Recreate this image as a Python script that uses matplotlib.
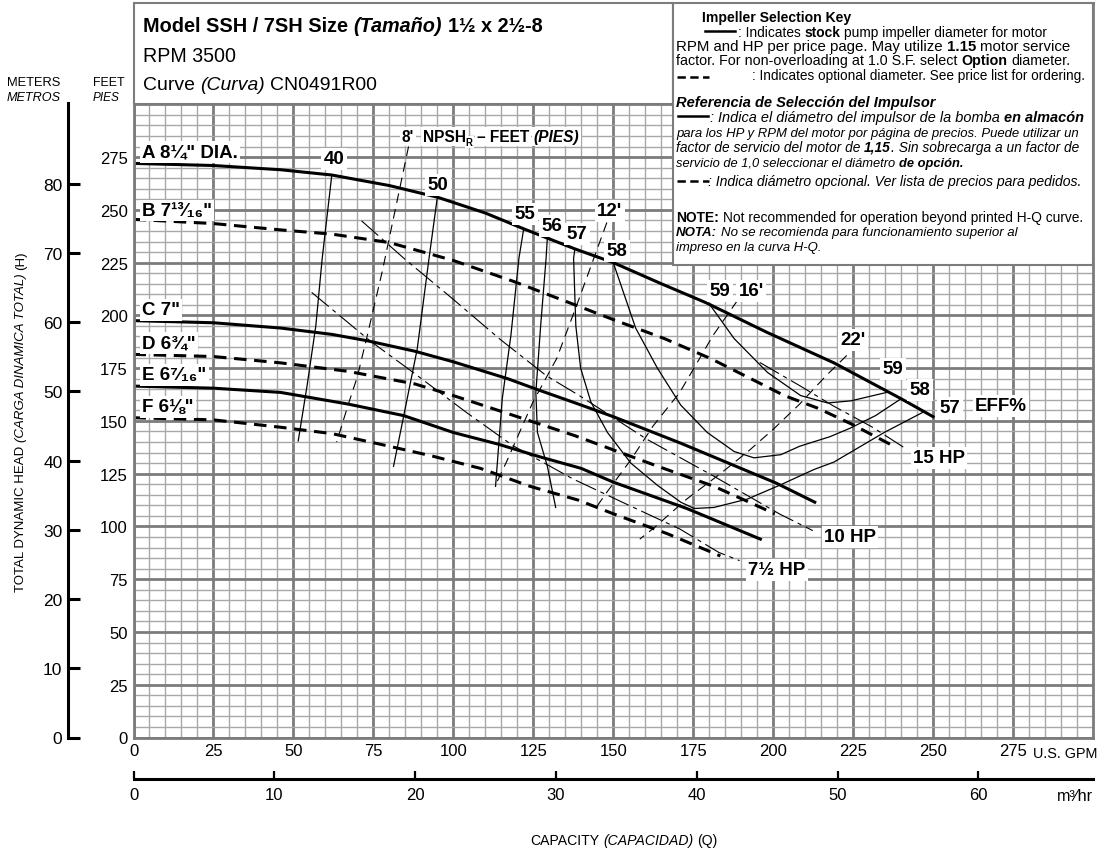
import numpy as np
import matplotlib
matplotlib.use("Agg")
import matplotlib.pyplot as plt
from matplotlib.patches import Rectangle
from matplotlib.lines import Line2D
from matplotlib.transforms import IdentityTransform

W, H = 1101, 854

# head / capacity curves (U.S. GPM, feet)
a_q = [0, 25, 46, 62, 80, 95, 110, 122, 138, 150, 165, 179, 198, 219, 240, 250]
a_h = [272, 271, 269, 266.5, 261.5, 256, 248.5, 241, 231.5, 225, 215, 206, 192, 177.5, 160.5, 152]
b_q = [0, 25, 46, 62, 80, 100, 119, 138, 150, 166, 180.5, 193, 203.5, 214, 224.5, 236.5]
b_h = [245.5, 243.5, 240.5, 238.5, 234.5, 226, 216, 205, 198, 189, 179.5, 170, 162, 156, 148.5, 139]
c_q = [0, 25, 46, 62, 73, 88, 100, 117, 126, 140, 150, 171, 201, 213]
c_h = [197.5, 196.5, 194, 191, 188, 183, 178, 170, 165, 157.5, 152, 139.5, 120.5, 111.5]
d_q = [0, 25, 46, 67, 88, 100, 119, 138, 163, 181.5, 200.5]
d_h = [181.5, 180.5, 177.5, 173.5, 167.5, 162, 152.5, 143, 129, 119, 106]
e_q = [0, 25, 46, 67, 84.5, 100, 114, 127, 140, 150, 173, 196]
e_h = [166.5, 165.5, 163.5, 158, 152.5, 144.5, 139, 133, 127.5, 121, 108.5, 94]
f_q = [0, 25, 46, 62, 77, 93, 108.5, 124, 139, 150, 167, 183.5]
f_h = [151.5, 150.5, 147, 144, 139, 133.5, 127.5, 119, 112.5, 106, 96.5, 86]

# efficiency lines
e40_q = [62, 59, 57, 54.3, 51.5]
e40_h = [266.5, 227, 195, 167, 140.5]
e50_q = [95, 92.4, 88.7, 84.5, 81.3]
e50_h = [256, 227, 184, 152.5, 128.5]
e55_q = [122, 120.5, 118, 115.3, 113.2]
e55_h = [241, 227, 190.5, 160.5, 119]
e56_q = [129.4, 129, 127.3, 125.8, 126.3, 129.4, 132]
e56_h = [237, 227, 195, 163.5, 144.5, 128.5, 109]
e57_q = [138, 137.6, 138.3, 139.8, 143, 148.2, 155.5, 163.8, 171.1, 175.3, 181.5, 192, 202, 212.8, 219, 234.7, 246.7]
e57_h = [231.5, 227, 195, 175, 159, 144.5, 130, 119.5, 111.5, 108.5, 109, 113, 119.5, 127, 130.5, 144.5, 154]
e58_q = [150, 157, 163.8, 171.1, 179.4, 187.8, 194, 202.4, 208.3, 217.7, 224, 232, 240]
e58_h = [225, 194, 175, 157.5, 144.5, 135.5, 132.5, 134, 138, 142.5, 146.5, 152.5, 160.5]
e59_q = [180, 187.8, 198.2, 208.6, 217, 224.3, 235.5]
e59_h = [205.5, 189, 173, 162, 158.5, 159.5, 163.5]

# NPSHr lines
n8_q = [86, 77.8, 73.1, 70, 67.3, 63.5]
n8_h = [280, 221, 190.5, 171, 158.5, 140]
n12_q = [148, 138.5, 132.3, 124.9, 119.8, 116.6, 113]
n12_h = [244, 204.5, 179.5, 159, 141.5, 130.5, 119]
n16_q = [188.8, 181.2, 170.8, 162.4, 155.7, 147.9, 144.2]
n16_h = [207, 190.5, 163.5, 147.5, 132, 116, 108]
n22_q = [223, 216.6, 208.3, 200, 192.5, 183.5, 173, 162.5, 158.3]
n22_h = [181, 171.5, 158, 146, 136, 125, 113, 99, 94]

# horsepower lines
hp15_q = [195.8, 208.3, 218.7, 231.2, 241.6]
hp15_h = [177.7, 166.7, 157.2, 146.9, 136.7]
hp10_q = [71.3, 84.8, 99.9, 114.5, 129.1, 139.5, 160.4, 181.2, 202, 212.4]
hp10_h = [244.8, 226.7, 207.7, 188.8, 171.4, 161.9, 141.4, 124, 105.9, 98]
hp75_q = [55.7, 73.9, 87.4, 104.1, 118.7, 137.4, 155.2, 170.8, 183, 189.5]
hp75_h = [210.9, 188, 173, 154, 138.2, 122.5, 109.8, 98.8, 87.7, 83.8]

gpm_ticks = list(range(0, 300, 25))
ft_ticks = list(range(0, 301, 25))
m_ticks = list(range(0, 81, 10))
m3_ticks = list(range(0, 61, 10))

GPM_PER_M3H = 4.40287
FT_PER_M = 3.28084

FAM = ['Liberation Sans', 'DejaVu Sans']
plt.rcParams['font.family'] = FAM
plt.rcParams['lines.scale_dashes'] = False

fig = plt.figure(figsize=(W / 100, H / 100), dpi=100)
ID = IdentityTransform()
L, R, B, T = 133.5, 1093, 738.5, 4
ax = fig.add_axes([L / W, 1 - B / H, (R - L) / W, (B - T) / H])
ax.set_xlim(0, 300)
ax.set_ylim(0, 348)

# graph paper
ax.set_xticks(gpm_ticks)
ax.set_xticks(np.arange(0, 301, 5), minor=True)
ax.set_yticks(ft_ticks)
ax.set_yticks(np.arange(0, 301, 5), minor=True)
ax.set_xticklabels([str(v) for v in gpm_ticks], fontsize=12)
ax.set_yticklabels([str(v) if v < 300 else '' for v in ft_ticks], fontsize=12)
ax.tick_params(which='both', length=0)
ax.tick_params(axis='x', pad=4)
ax.tick_params(axis='y', pad=4)
ax.grid(which='minor', color='#a8a8a8', lw=1.0)
ax.grid(which='major', color='#7c7c7c', lw=2.0)
ax.set_axisbelow(True)
for s in ax.spines.values():
    s.set_color('#7c7c7c')
    s.set_linewidth(2)

# impeller curves
ax.plot(a_q, a_h, color='k', lw=2.2)
ax.plot(b_q, b_h, color='k', lw=2.2, ls=(0, (9, 5.5)))
ax.plot(c_q, c_h, color='k', lw=2.2)
ax.plot(d_q, d_h, color='k', lw=2.2, ls=(0, (9, 5.5)))
ax.plot(e_q, e_h, color='k', lw=2.2)
ax.plot(f_q, f_h, color='k', lw=2.2, ls=(0, (9, 5.5)))

for q, h in [(e40_q, e40_h), (e50_q, e50_h), (e55_q, e55_h), (e56_q, e56_h),
             (e57_q, e57_h), (e58_q, e58_h), (e59_q, e59_h)]:
    ax.plot(q, h, color='k', lw=0.9)
for q, h in [(n8_q, n8_h), (n12_q, n12_h), (n16_q, n16_h), (n22_q, n22_h)]:
    ax.plot(q, h, color='k', lw=0.8, ls=(0, (7, 4.5)))
for q, h in [(hp15_q, hp15_h), (hp10_q, hp10_h), (hp75_q, hp75_h)]:
    ax.plot(q, h, color='k', lw=0.8, ls=(0, (16, 3.5, 3, 3.5)))

# meters scale on the left
ax_m = fig.add_axes([68 / W, 1 - B / H, 0.0005, (B - T) / H])
ax_m.set_ylim(0, 348 / FT_PER_M)
ax_m.set_yticks(m_ticks)
ax_m.set_yticklabels([str(v) for v in m_ticks], fontsize=12.5)
ax_m.set_xticks([])
ax_m.patch.set_visible(False)
for k in ['top', 'right', 'bottom']:
    ax_m.spines[k].set_visible(False)
ax_m.spines['left'].set_linewidth(2.2)
ax_m.spines['left'].set_bounds(0, (B - 104) / 2.111 / FT_PER_M)
ax_m.tick_params(axis='y', direction='in', length=8.5, width=2.2, pad=4)

# m3/hr scale at the bottom
ax_q = fig.add_axes([L / W, 1 - 780 / H, (R - L) / W, 0.0005])
ax_q.set_xlim(0, 300 / GPM_PER_M3H)
ax_q.set_xticks(m3_ticks)
ax_q.set_xticklabels([str(v) for v in m3_ticks], fontsize=12)
ax_q.set_yticks([])
ax_q.patch.set_visible(False)
for k in ['top', 'right', 'left']:
    ax_q.spines[k].set_visible(False)
ax_q.spines['bottom'].set_linewidth(2.2)
ax_q.tick_params(axis='x', direction='in', length=5.5, width=1.6, pad=6)

# boxes
fig.add_artist(Rectangle((L, H - 104.5), 673 - L, 100.5, transform=ID, fc='white',
                         ec='#7c7c7c', lw=1.5, zorder=2))
fig.add_artist(Rectangle((673, H - 266), R - 673, 262, transform=ID, fc='white',
                         ec='#7c7c7c', lw=1.5, zorder=2))

RND = fig.canvas.get_renderer()


def _txt(x, y, s, size, weight, style, rot=0, **kw):
    return fig.text(x, H - y, s, transform=ID, fontsize=size, fontweight=weight,
                    fontstyle=style, family=FAM, rotation=rot, rotation_mode='anchor',
                    ha='left', va='baseline', zorder=4, **kw)


def _space(size, weight, style):
    t1 = _txt(0, 0, 'x x', size, weight, style)
    t2 = _txt(0, 0, 'xx', size, weight, style)
    d = t1.get_window_extent(RND).width - t2.get_window_extent(RND).width
    t1.remove()
    t2.remove()
    return d


def rich(x, y, parts, size, fit=None, ha='left', rot=0, **kw):
    if fit:
        arts, total = rich(x, y, parts, size, rot=rot)
        for a in arts:
            a.remove()
        size = size * fit / total
    arts, pos = [], 0.0
    for p in parts:
        s, wt, st = p[:3]
        k = p[3] if len(p) > 3 else 1.0
        dy = p[4] if len(p) > 4 else 0
        sz = size * k
        core = s.strip(' ')
        sp = _space(sz, wt, st)
        pos += (len(s) - len(s.lstrip(' '))) * sp
        if rot:
            t = _txt(x + dy, y - pos, core, sz, wt, st, rot=90, **kw)
            pos += t.get_window_extent(RND).height
        else:
            t = _txt(x + pos, y + dy, core, sz, wt, st, **kw)
            pos += t.get_window_extent(RND).width
        pos += (len(s) - len(s.rstrip(' '))) * sp
        arts.append(t)
    if ha == 'center':
        for t in arts:
            px_, py_ = t.get_position()
            if rot:
                t.set_position((px_, py_ - pos / 2))
            else:
                t.set_position((px_ - pos / 2, py_))
    return arts, pos


N, BD, IT = 'normal', 'bold', 'italic'

# title block
rich(143, 32, [('Model SSH / 7SH Size ', BD, N), ('(Tamaño)', BD, IT), (' 1½ x 2½-8', BD, N)],
     14, fit=399)
rich(143, 62.5, [('RPM 3500', N, N)], 14, fit=93)
rich(143, 90.5, [('Curve ', N, N), ('(Curva)', N, IT), (' CN0491R00', N, N)], 14, fit=235)

# key block
rich(702, 22.5, [('Impeller Selection Key', BD, N)], 10.5, fit=150)
rich(738, 37, [(': Indicates ', N, N), ('stock', BD, N), (' pump impeller diameter for motor', N, N)],
     10, fit=310)
rich(676, 51, [('RPM and HP per price page. May utilize ', N, N), ('1.15', BD, N),
               (' motor service', N, N)], 10, fit=394)
rich(676, 65.5, [('factor. For non-overloading at 1.0 S.F. select ', N, N), ('Option', BD, N),
                 (' diameter.', N, N)], 10, fit=395)
rich(752, 80.5, [(': Indicates optional diameter. See price list for ordering.', N, N)], 10, fit=334)
rich(676, 107.5, [('Referencia de Selección del Impulsor', BD, IT)], 10.5, fit=261)
rich(710, 122, [(': Indica el diámetro del impulsor de la bomba ', N, IT), ('en almacón', BD, IT)],
     10, fit=373)
rich(676, 137, [('para los HP y RPM del motor por página de precios. Puede utilizar un', N, IT)],
     10, fit=407)
rich(676, 152, [('factor de servicio del motor de ', N, IT), ('1,15', BD, IT),
                ('. Sin sobrecarga a un factor de', N, IT)], 10, fit=405)
rich(676, 167, [('servicio de 1,0 seleccionar el diámetro ', N, IT), ('de opción.', BD, IT)],
     10, fit=287)
rich(708, 186, [(': Indica diámetro opcional. Ver lista de precios para pedidos.', N, IT)],
     10, fit=375)
rich(676, 222, [('NOTE:', BD, N), (' Not recommended for operation beyond printed H-Q curve.', N, N)],
     10, fit=407)
rich(676, 236.5, [('NOTA:', BD, IT), (' No se recomienda para funcionamiento superior al', N, IT)],
     10, fit=344)
rich(676, 251, [('impreso en la curva H-Q.', N, IT)], 10, fit=147)

for y0 in [32, 117]:
    fig.add_artist(Line2D([678 if y0 > 100 else 705, 708 if y0 > 100 else 735], [H - y0, H - y0],
                          transform=ID, color='k', lw=1.8, zorder=4))
for y0 in [77.5, 182]:
    fig.add_artist(Line2D([677, 709], [H - y0, H - y0], transform=ID, color='k', lw=1.8,
                          ls=(0, (6, 3.2)), zorder=4))

# left axis headings
rich(7, 86, [('METERS', N, N)], 10.5, fit=54)
rich(7, 101.5, [('METROS', N, IT)], 10.5, fit=54)
rich(93, 86, [('FEET', N, N)], 10.5, fit=32)
rich(93, 101.5, [('PIES', N, IT)], 10.5, fit=27)
rich(24, 592, [('TOTAL DYNAMIC HEAD ', N, N), ('(CARGA DINAMICA TOTAL)', N, IT), (' (H)', N, N)],
     10, fit=340, rot=90)
rich(530, 845, [('CAPACITY ', N, N), ('(CAPACIDAD)', N, IT), (' (Q)', N, N)], 10, fit=187)
rich(1033, 758, [('U.S. GPM', N, N)], 11, fit=64)
rich(1057, 801, [('m³⁄hr', N, N)], 10, fit=36)

# chart labels
WB = dict(boxstyle='square,pad=0.12', fc='white', ec='none')
curve_labels = [('A 8¼" DIA.', 153), ('B 7¹³⁄₁₆"', 211.5), ('C 7"', 311),
                ('D 6¾"', 344), ('E 6⁷⁄₁₆"', 376), ('F 6⅛"', 408)]
for s, yy in curve_labels:
    fig.text(142, H - yy, s, transform=ID, fontsize=13.5, fontweight='bold', family=FAM,
             ha='left', va='center', bbox=WB, zorder=4)

center_labels = [('40', 334, 160), ('50', 438, 186), ('55', 525, 215), ('56', 552, 227),
                 ('57', 577, 235), ('58', 617, 252), ("12'", 610, 212), ('59', 720, 292),
                 ("16'", 751, 292), ("22'", 853, 341), ('59', 893, 370), ('58', 920, 391),
                 ('57', 950, 409)]
for s, xx, yy in center_labels:
    fig.text(xx, H - yy, s, transform=ID, fontsize=13.5, fontweight='bold', family=FAM,
             ha='center', va='center', bbox=WB, zorder=4)

left_labels = [('EFF%', 975, 407), ('15 HP', 913, 459), ('10 HP', 824, 538), ('7½ HP', 748, 571)]
for s, xx, yy in left_labels:
    fig.text(xx, H - yy, s, transform=ID, fontsize=13.5, fontweight='bold', family=FAM,
             ha='left', va='center', bbox=WB, zorder=4)

rich(402, 142, [("8'", BD, N), ('  NPSH', BD, N), ('R', BD, N, 0.62, 4), (' – FEET ', BD, N),
                ('(PIES)', BD, IT)], 12.5, fit=178, bbox=WB)

fig.savefig('out.png', dpi=100)
